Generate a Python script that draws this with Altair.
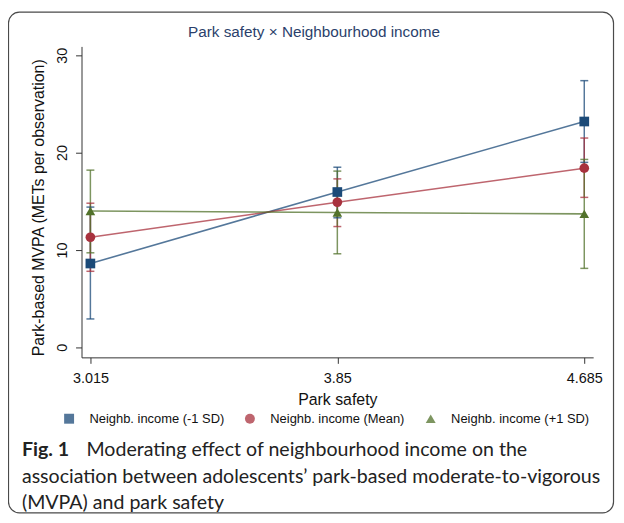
import altair as alt
import pandas as pd

# ---------------- data ----------------
x_vals = [3.015, 3.85, 4.685]
series = ["Neighb. income (-1 SD)", "Neighb. income (Mean)", "Neighb. income (+1 SD)"]

est_low = [8.6, 15.95, 23.2]
lo_low = [2.9, 13.3, 19.0]
hi_low = [14.4, 18.5, 27.4]

est_mean = [11.3, 14.9, 18.4]
lo_mean = [7.8, 12.4, 15.4]
hi_mean = [14.8, 17.3, 21.5]

est_high = [14.0, 13.85, 13.7]
lo_high = [9.7, 9.6, 8.1]
hi_high = [18.2, 18.1, 19.3]

y_ticks = [0, 10, 20, 30]

title_text = "Park safety × Neighbourhood income"
x_title = "Park safety"
y_title = "Park-based MVPA (METs per observation)"
caption_bold = "Fig. 1"
caption_line1 = "Moderating effect of neighbourhood income on the"
caption_line2 = "association between adolescents’ park-based moderate-to-vigorous"
caption_line3 = "(MVPA) and park safety"

marker_colors = ["#1b4a78", "#a8323e", "#52722b"]
shapes = ["square", "circle", "triangle-up"]

# ---------------- table ----------------
rows = []
for s, est, lo, hi in zip(series,
                          [est_low, est_mean, est_high],
                          [lo_low, lo_mean, lo_high],
                          [hi_low, hi_mean, hi_high]):
    for xv, e, l, h in zip(x_vals, est, lo, hi):
        rows.append({"series": s, "x": xv, "est": e, "lo": l, "hi": h})
df = pd.DataFrame(rows)

FONT = "Liberation Sans"
CAP_FONT = "Lato"
CAP_SIZE = 19.7

x_scale = alt.Scale(domain=[2.985, 4.715], nice=False, zero=False)
y_scale = alt.Scale(domain=[-1.05, 30.92], nice=False, zero=False)

x_enc = alt.X(
    "x:Q", scale=x_scale,
    axis=alt.Axis(values=x_vals, format=".3~f", title=x_title,
                  labelBaseline="alphabetic", labelPadding=19,
                  titleX=257.5, titleY=47, titleBaseline="alphabetic",
                  titleAnchor="middle"),
)
y_axis = alt.Axis(values=y_ticks, format="d", title=y_title,
                  labelAngle=270, labelAlign="center", labelBaseline="alphabetic",
                  labelPadding=9,
                  titleAngle=270, titleAlign="center", titleBaseline="alphabetic",
                  titleX=-38, titleY=162)

legend = alt.Legend(title=None, orient="none", direction="horizontal",
                    legendX=-19, legendY=368, padding=0,
                    labelFont=FONT, labelFontSize=13, labelColor="#111",
                    labelOffset=14, columnPadding=19, symbolSize=100,
                    symbolStrokeWidth=0)
color = alt.Color("series:N", scale=alt.Scale(domain=series, range=marker_colors),
                  legend=legend)
shape = alt.Shape("series:N", scale=alt.Scale(domain=series, range=shapes),
                  legend=legend)

base = alt.Chart(df)

bars = base.mark_rule(strokeWidth=1.5, opacity=0.75).encode(
    x=x_enc, y=alt.Y("lo:Q", scale=y_scale, axis=y_axis), y2="hi:Q", color=color,
)
caps_lo = base.mark_tick(orient="horizontal", size=8, thickness=1.5, opacity=0.75).encode(
    x="x:Q", y="lo:Q", color=color,
)
caps_hi = base.mark_tick(orient="horizontal", size=8, thickness=1.5, opacity=0.75).encode(
    x="x:Q", y="hi:Q", color=color,
)
lines = base.mark_line(strokeWidth=1.6, opacity=0.75).encode(
    x="x:Q", y="est:Q", color=color, detail="series:N",
)
points = base.mark_point(filled=True, size=95, opacity=1).encode(
    x="x:Q", y="est:Q", color=color, shape=shape,
)

one = alt.Data(values=[{"k": 1}])

frame = alt.Chart(one).mark_rect(cornerRadius=11, fillOpacity=0, stroke="#4a4a4a",
                                 strokeWidth=1.2).encode(
    x=alt.value(-73.5), x2=alt.value(535.5), y=alt.value(-34.5), y2=alt.value(469.5)
)

title = alt.Chart(one).mark_text(font=FONT, fontSize=15.4, align="center",
                                 baseline="middle", color="#2b3f6b").encode(
    x=alt.value(234), y=alt.value(-14), text=alt.value(title_text)
)

cap_bold = alt.Chart(one).mark_text(font=CAP_FONT, fontSize=CAP_SIZE, fontWeight="bold",
                                    align="left", baseline="middle", color="#222").encode(
    x=alt.value(-60), y=alt.value(406), text=alt.value(caption_bold)
)
cap1 = alt.Chart(one).mark_text(font=CAP_FONT, fontSize=CAP_SIZE, align="left",
                                baseline="middle", color="#222").encode(
    x=alt.value(5), y=alt.value(406), text=alt.value(caption_line1)
)
cap2 = alt.Chart(one).mark_text(font=CAP_FONT, fontSize=CAP_SIZE, align="left",
                                baseline="middle", color="#222").encode(
    x=alt.value(-60), y=alt.value(433), text=alt.value(caption_line2)
)
cap3 = alt.Chart(one).mark_text(font=CAP_FONT, fontSize=CAP_SIZE, align="left",
                                baseline="middle", color="#222").encode(
    x=alt.value(-60), y=alt.value(460), text=alt.value(caption_line3)
)

chart = alt.layer(
    frame, title, bars, caps_lo, caps_hi, lines, points, cap_bold, cap1, cap2, cap3
).properties(
    width=515, height=313,
    autosize=alt.AutoSizeParams(type="none"),
    padding={"left": 74, "top": 37, "right": 23, "bottom": 157},
    background="white",
).configure_view(stroke=None).configure_axis(
    grid=False, domainColor="#333", domainWidth=1, tickColor="#333", tickSize=6,
    tickWidth=1, labelFont=FONT, labelFontSize=14.5, labelColor="#111",
    titleFont=FONT, titleFontSize=16, titleFontWeight="normal", titleColor="#111",
)

chart.save("out.html", embed_options={"renderer": "svg", "actions": False})
